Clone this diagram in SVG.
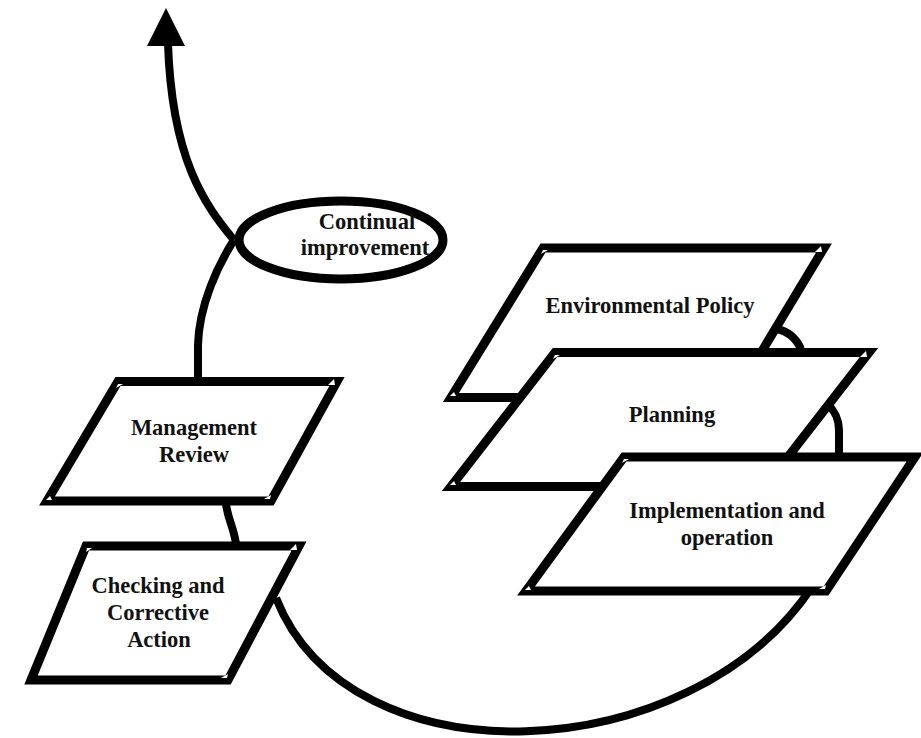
<svg xmlns="http://www.w3.org/2000/svg" width="921" height="738" viewBox="0 0 921 738">
<style>
.n{fill:#fff;stroke:#000;stroke-width:9;stroke-linejoin:miter;stroke-miterlimit:10}
.c{fill:none;stroke:#000;stroke-width:8;stroke-linecap:butt}
.t{font-family:"Liberation Serif","Times New Roman","DejaVu Serif",serif;font-weight:bold;font-size:22.5px;fill:#111;text-anchor:middle}
.w{fill:#fff;stroke:none}
</style>
<rect width="921" height="738" fill="#fff"/>
<g id="connectors">
<path class="c" d="M198,378 L198,345 C199,305 218,265 234,240"/>
<path class="c" d="M234,240 C205,205 172,160 168,44"/>
<polygon points="166,8 147,46 185,46" fill="#000"/>
<path class="c" d="M226,504 C228,520 234,528 236,544"/>
<path class="c" d="M776,329 C788,331 796,338 801,349"/>
<path class="c" d="M826,402 C836,412 839,420 839,430 L839,454"/>
<path class="c" d="M276,598 C350,785 690,770 812,587"/>
</g>
<g id="continual">
<ellipse class="n" cx="341" cy="240" rx="102" ry="39"/>
<text class="t" font-family="Liberation Serif, Times New Roman, serif" x="367" y="229">Continual</text>
<text class="t" font-family="Liberation Serif, Times New Roman, serif" x="365" y="255" font-size="22">improvement</text>
</g>
<g id="policy">
<polygon class="n" points="543,248 824,248 734,397.5 451,397.5"/>
<polygon class="w" points="543,250 548,250 541,254"/>
<polygon class="w" points="815,252 822,252 821,246"/>
<polygon class="w" points="450,396 456,396 454,392"/>
<text class="t" font-family="Liberation Serif, Times New Roman, serif" x="650" y="313">Environmental Policy</text>
</g>
<g id="planning">
<polygon class="n" points="555,352.5 869,352.5 765,486.5 451,486.5"/>
<polygon class="w" points="555,355 560,355 553,359"/>
<polygon class="w" points="860,357 867,357 866,351"/>
<polygon class="w" points="450,485 456,485 454,481"/>
<text class="t" font-family="Liberation Serif, Times New Roman, serif" x="672" y="422">Planning</text>
</g>
<g id="implementation">
<polygon class="n" points="624,457 915,457 826,591 526,591"/>
<polygon class="w" points="624,459 629,459 622,463"/>
<polygon class="w" points="525,590 531,590 529,586"/>
<polygon class="w" points="819,589 825,589 826,585"/>
<text class="t" font-family="Liberation Serif, Times New Roman, serif" x="727" y="518">Implementation and</text>
<text class="t" font-family="Liberation Serif, Times New Roman, serif" x="727" y="545">operation</text>
</g>
<g id="review">
<polygon class="n" points="118,381.5 337,381.5 271,501 47,501"/>
<polygon class="w" points="118,384 123,384 116,388"/>
<polygon class="w" points="328,385 335,385 334,379"/>
<polygon class="w" points="46,500 52,500 50,496"/>
<polygon class="w" points="264,499 270,499 271,495"/>
<text class="t" font-family="Liberation Serif, Times New Roman, serif" x="194" y="435">Management</text>
<text class="t" font-family="Liberation Serif, Times New Roman, serif" x="194" y="462">Review</text>
</g>
<g id="checking">
<polygon class="n" points="86,546 299,546 228,680 31,680"/>
<polygon class="w" points="87,548 92,548 86,552"/>
<polygon class="w" points="290,550 297,550 296,544"/>
<polygon class="w" points="221,678 227,678 228,674"/>
<text class="t" font-family="Liberation Serif, Times New Roman, serif" x="158" y="593">Checking and</text>
<text class="t" font-family="Liberation Serif, Times New Roman, serif" x="158" y="620">Corrective</text>
<text class="t" font-family="Liberation Serif, Times New Roman, serif" x="159" y="647">Action</text>
</g>
</svg>
